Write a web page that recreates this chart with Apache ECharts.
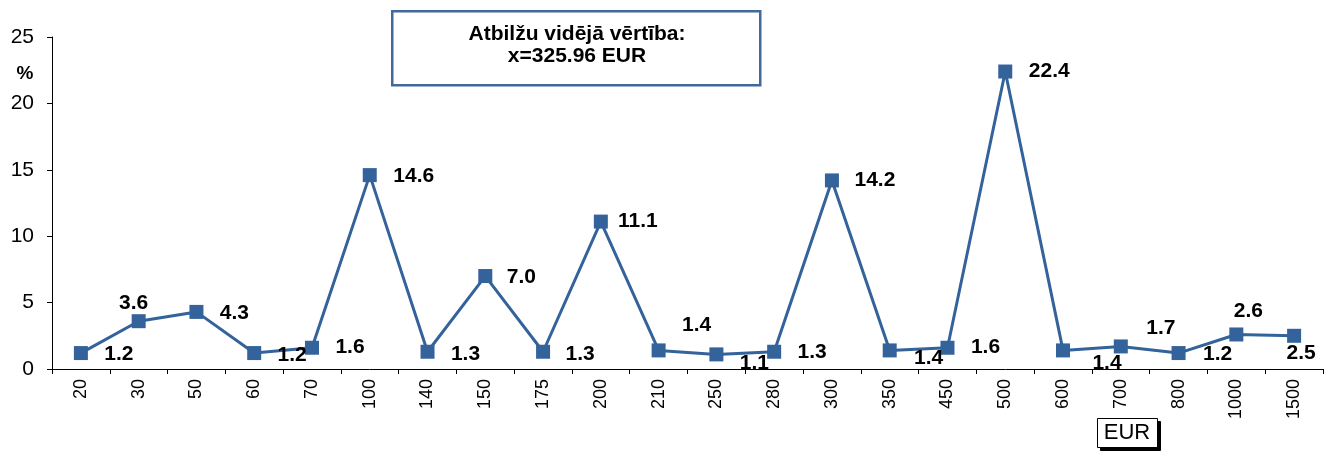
<!DOCTYPE html>
<html>
<head>
<meta charset="utf-8">
<script src="https://cdn.jsdelivr.net/npm/echarts@6/dist/echarts.min.js"></script>
<style>html,body{margin:0;padding:0;background:#fff}#c{width:1331px;height:453px}</style>
</head>
<body>
<div id="c"></div>
<script>
const categories = ['20','30','50','60','70','100','140','150','175','200','210','250','280','300','350','450','500','600','700','800','1000','1500'];
const values = [1.2,3.6,4.3,1.2,1.6,14.6,1.3,7.0,1.3,11.1,1.4,1.1,1.3,14.2,1.4,1.6,22.4,1.4,1.7,1.2,2.6,2.5];
const yTicks = [0,5,10,15,20,25];
const labelOffsets = [[38,1],[-5,-18],[38,1],[38,2],[38,-1],[44,1],[38,2],[36,1],[37,2],[37,0],[38,-25],[38,9],[38,0],[43,0],[39,8],[38,-1],[44,0],[44,13],[40,-18],[39,1],[12,-23],[7,17]];
const annotationLines = ['Atbilžu vidējā vērtība:', 'x=325.96 EUR'];
const yUnit = '%';
const xUnit = 'EUR';

const lineColor = '#34629a';
const chart = echarts.init(document.getElementById('c'), null, {renderer:'canvas'});
const data = values.map((v,i)=>({
  value: v,
  label: {show:true, position:'inside', offset: labelOffsets[i], formatter: v.toFixed(1)}
}));
chart.setOption({
  animation:false,
  grid:{left:52, right:8, top:37, bottom:84, containLabel:false},
  xAxis:{
    type:'category', data:categories, boundaryGap:true,
    axisLine:{lineStyle:{color:'#000', width:1}},
    axisTick:{show:true, length:5, alignWithLabel:false, lineStyle:{color:'#000'}},
    axisLabel:{rotate:90, color:'#000', fontSize:18, fontFamily:'Liberation Sans, Arial', margin:10, interval:0}
  },
  yAxis:{
    type:'value', min:yTicks[0], max:yTicks[yTicks.length-1], interval:5,
    axisLine:{show:true, lineStyle:{color:'#000', width:1}},
    axisTick:{show:true, length:5, lineStyle:{color:'#000'}},
    splitLine:{show:false},
    axisLabel:{color:'#000', fontSize:21, fontFamily:'Liberation Sans, Arial', margin:18}
  },
  series:[{
    type:'line', data:data,
    symbol:'rect', symbolSize:14,
    lineStyle:{color:lineColor, width:3},
    itemStyle:{color:lineColor},
    label:{color:'#000', fontSize:21, fontWeight:'bold', fontFamily:'Liberation Sans, Arial'},
    z:3
  }],
  graphic:[
    {type:'rect', left:391, top:10, shape:{width:368, height:74}, style:{fill:'#fff', stroke:'#41699c', lineWidth:2.5}, z:10},
    {type:'text', x:577, y:34, style:{text:annotationLines[0], align:'center', verticalAlign:'middle', font:'bold 21px "Liberation Sans", Arial', fill:'#000'}, z:11},
    {type:'text', x:577, y:56, style:{text:annotationLines[1], align:'center', verticalAlign:'middle', font:'bold 21px "Liberation Sans", Arial', fill:'#000'}, z:11},
    {type:'text', x:25, y:74, style:{text:yUnit, align:'center', verticalAlign:'middle', font:'bold 19px "Liberation Sans", Arial', fill:'#000'}, z:11},
    {type:'rect', left:1100, top:421, shape:{width:60, height:29}, style:{fill:'#000', stroke:'#000'}, z:10},
    {type:'rect', left:1097, top:418, shape:{width:60, height:29}, style:{fill:'#fff', stroke:'#000', lineWidth:1}, z:11},
    {type:'text', x:1127, y:433, style:{text:xUnit, align:'center', verticalAlign:'middle', font:'22px "Liberation Sans", Arial', fill:'#000'}, z:12}
  ]
});
</script>
</body>
</html>
